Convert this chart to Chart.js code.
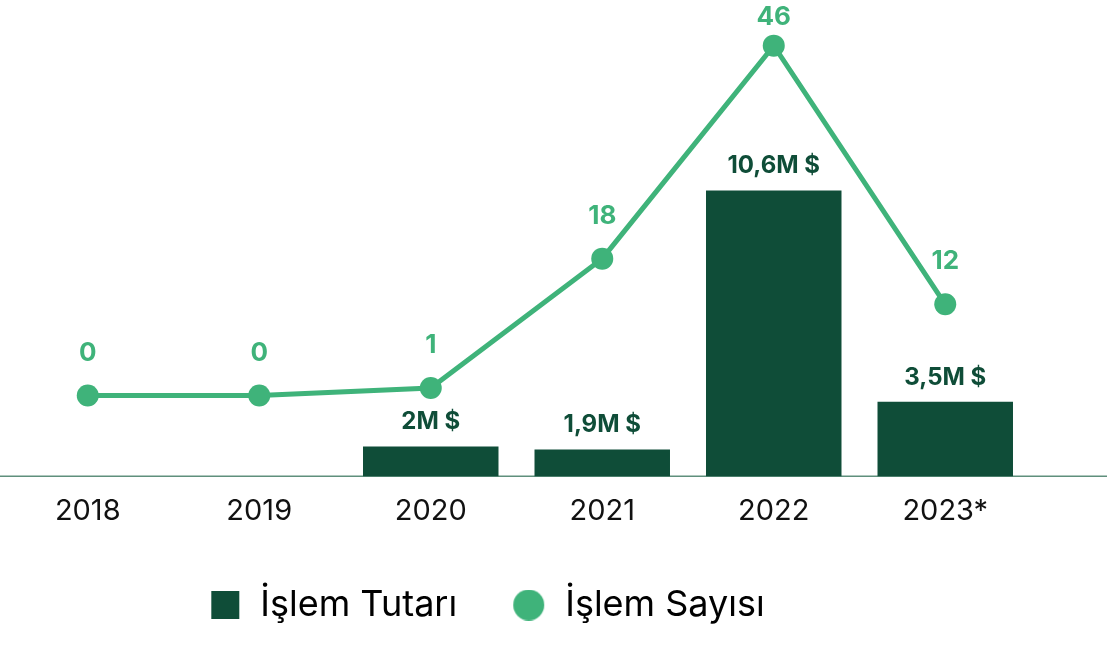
<!DOCTYPE html>
<html>
<head>
<meta charset="utf-8">
<script src="https://cdn.jsdelivr.net/npm/chart.js@4"></script>
<style>
  html, body { margin: 0; padding: 0; background: #fff; }
  #wrap { width: 1107px; height: 645px; }
</style>
</head>
<body>
<div id="wrap"><canvas id="islemChart"></canvas></div>
<script>
const years = ['2018', '2019', '2020', '2021', '2022', '2023*'];
const tutar = [null, null, 2, 1.9, 10.6, 3.5];      // M $
const tutarLabels = ['', '', '2M $', '1,9M $', '10,6M $', '3,5M $'];
const sayi = [0, 0, 1, 18, 46, 12];

const dark = '#0f4d38';
const green = '#3fb37a';

Chart.defaults.font.family = 'Inter, "Noto Sans", sans-serif';

// legend markers: shape sits at the right of a 50px wide slot
function marker(kind, size, color) {
  const w = 50;
  const c = document.createElement('canvas');
  c.width = w; c.height = size;
  const g = c.getContext('2d');
  g.fillStyle = color;
  const x0 = w - 3 - size;
  if (kind === 'rect') g.fillRect(x0, 0, size, size);
  else { g.beginPath(); g.arc(x0 + size / 2, size / 2, size / 2, 0, Math.PI * 2); g.fill(); }
  return c;
}

// value labels above bars and points + full-width baseline
const valueLabels = {
  id: 'valueLabels',
  afterLayout(chart) {
    // legend sits a bit left of the plot centre
    chart.legend.left -= 38;
    chart.legend.right -= 38;
  },
  beforeDatasetsDraw(chart) {
    const ctx = chart.ctx;
    const y = chart.chartArea.bottom;
    ctx.save();
    ctx.strokeStyle = '#5f8f7c';
    ctx.lineWidth = 1.5;
    ctx.beginPath();
    ctx.moveTo(0, y);
    ctx.lineTo(chart.width, y);
    ctx.stroke();
    ctx.restore();
  },
  afterDatasetsDraw(chart) {
    const ctx = chart.ctx;
    ctx.save();
    ctx.textAlign = 'center';
    ctx.textBaseline = 'alphabetic';
    chart.getDatasetMeta(0).data.forEach((el, i) => {
      if (!tutarLabels[i]) return;
      ctx.font = 'bold 24px Inter, sans-serif';
      ctx.fillStyle = dark;
      ctx.fillText(tutarLabels[i], el.x, el.y - 17);
    });
    chart.getDatasetMeta(1).data.forEach((el, i) => {
      ctx.font = 'bold 26px Inter, sans-serif';
      ctx.fillStyle = green;
      ctx.fillText(String(sayi[i]), el.x, Math.max(el.y - 35, 25));
    });
    ctx.restore();
  }
};

new Chart(document.getElementById('islemChart'), {
  data: {
    labels: years,
    datasets: [{
      type: 'bar',
      label: 'İşlem Tutarı',
      data: tutar,
      backgroundColor: dark,
      barPercentage: 0.79,
      categoryPercentage: 1,
      yAxisID: 'y',
      order: 2
    }, {
      type: 'line',
      label: 'İşlem Sayısı',
      data: sayi,
      borderColor: green,
      backgroundColor: green,
      borderWidth: 5,
      pointRadius: 11,
      pointHoverRadius: 11,
      pointBorderWidth: 0,
      yAxisID: 'y1',
      order: 1
    }]
  },
  options: {
    responsive: true,
    maintainAspectRatio: false,
    animation: false,
    layout: { autoPadding: false, padding: { left: 2, right: 76, top: 0, bottom: 12 } },
    scales: {
      x: {
        grid: { display: false, drawTicks: false },
        border: { display: false },
        ticks: { color: '#111', font: { size: 29 }, padding: 18 }
      },
      y: { display: false, min: 1, max: 17 },
      y1: { display: false, min: -10.6, max: 52 }
    },
    plugins: {
      tooltip: { enabled: false },
      legend: {
        position: 'bottom',
        labels: {
          color: '#111',
          font: { size: 36 },
          usePointStyle: true,
          pointStyleWidth: 50,
          boxHeight: 28,
          padding: 40,
          generateLabels(chart) {
            return [
              { text: 'İşlem Tutarı', pointStyle: marker('rect', 28, dark), fillStyle: dark, strokeStyle: dark, lineWidth: 0, datasetIndex: 0 },
              { text: 'İşlem Sayısı', pointStyle: marker('circle', 31, green), fillStyle: green, strokeStyle: green, lineWidth: 0, datasetIndex: 1 }
            ];
          }
        }
      }
    }
  },
  plugins: [valueLabels]
});
</script>
</body>
</html>
